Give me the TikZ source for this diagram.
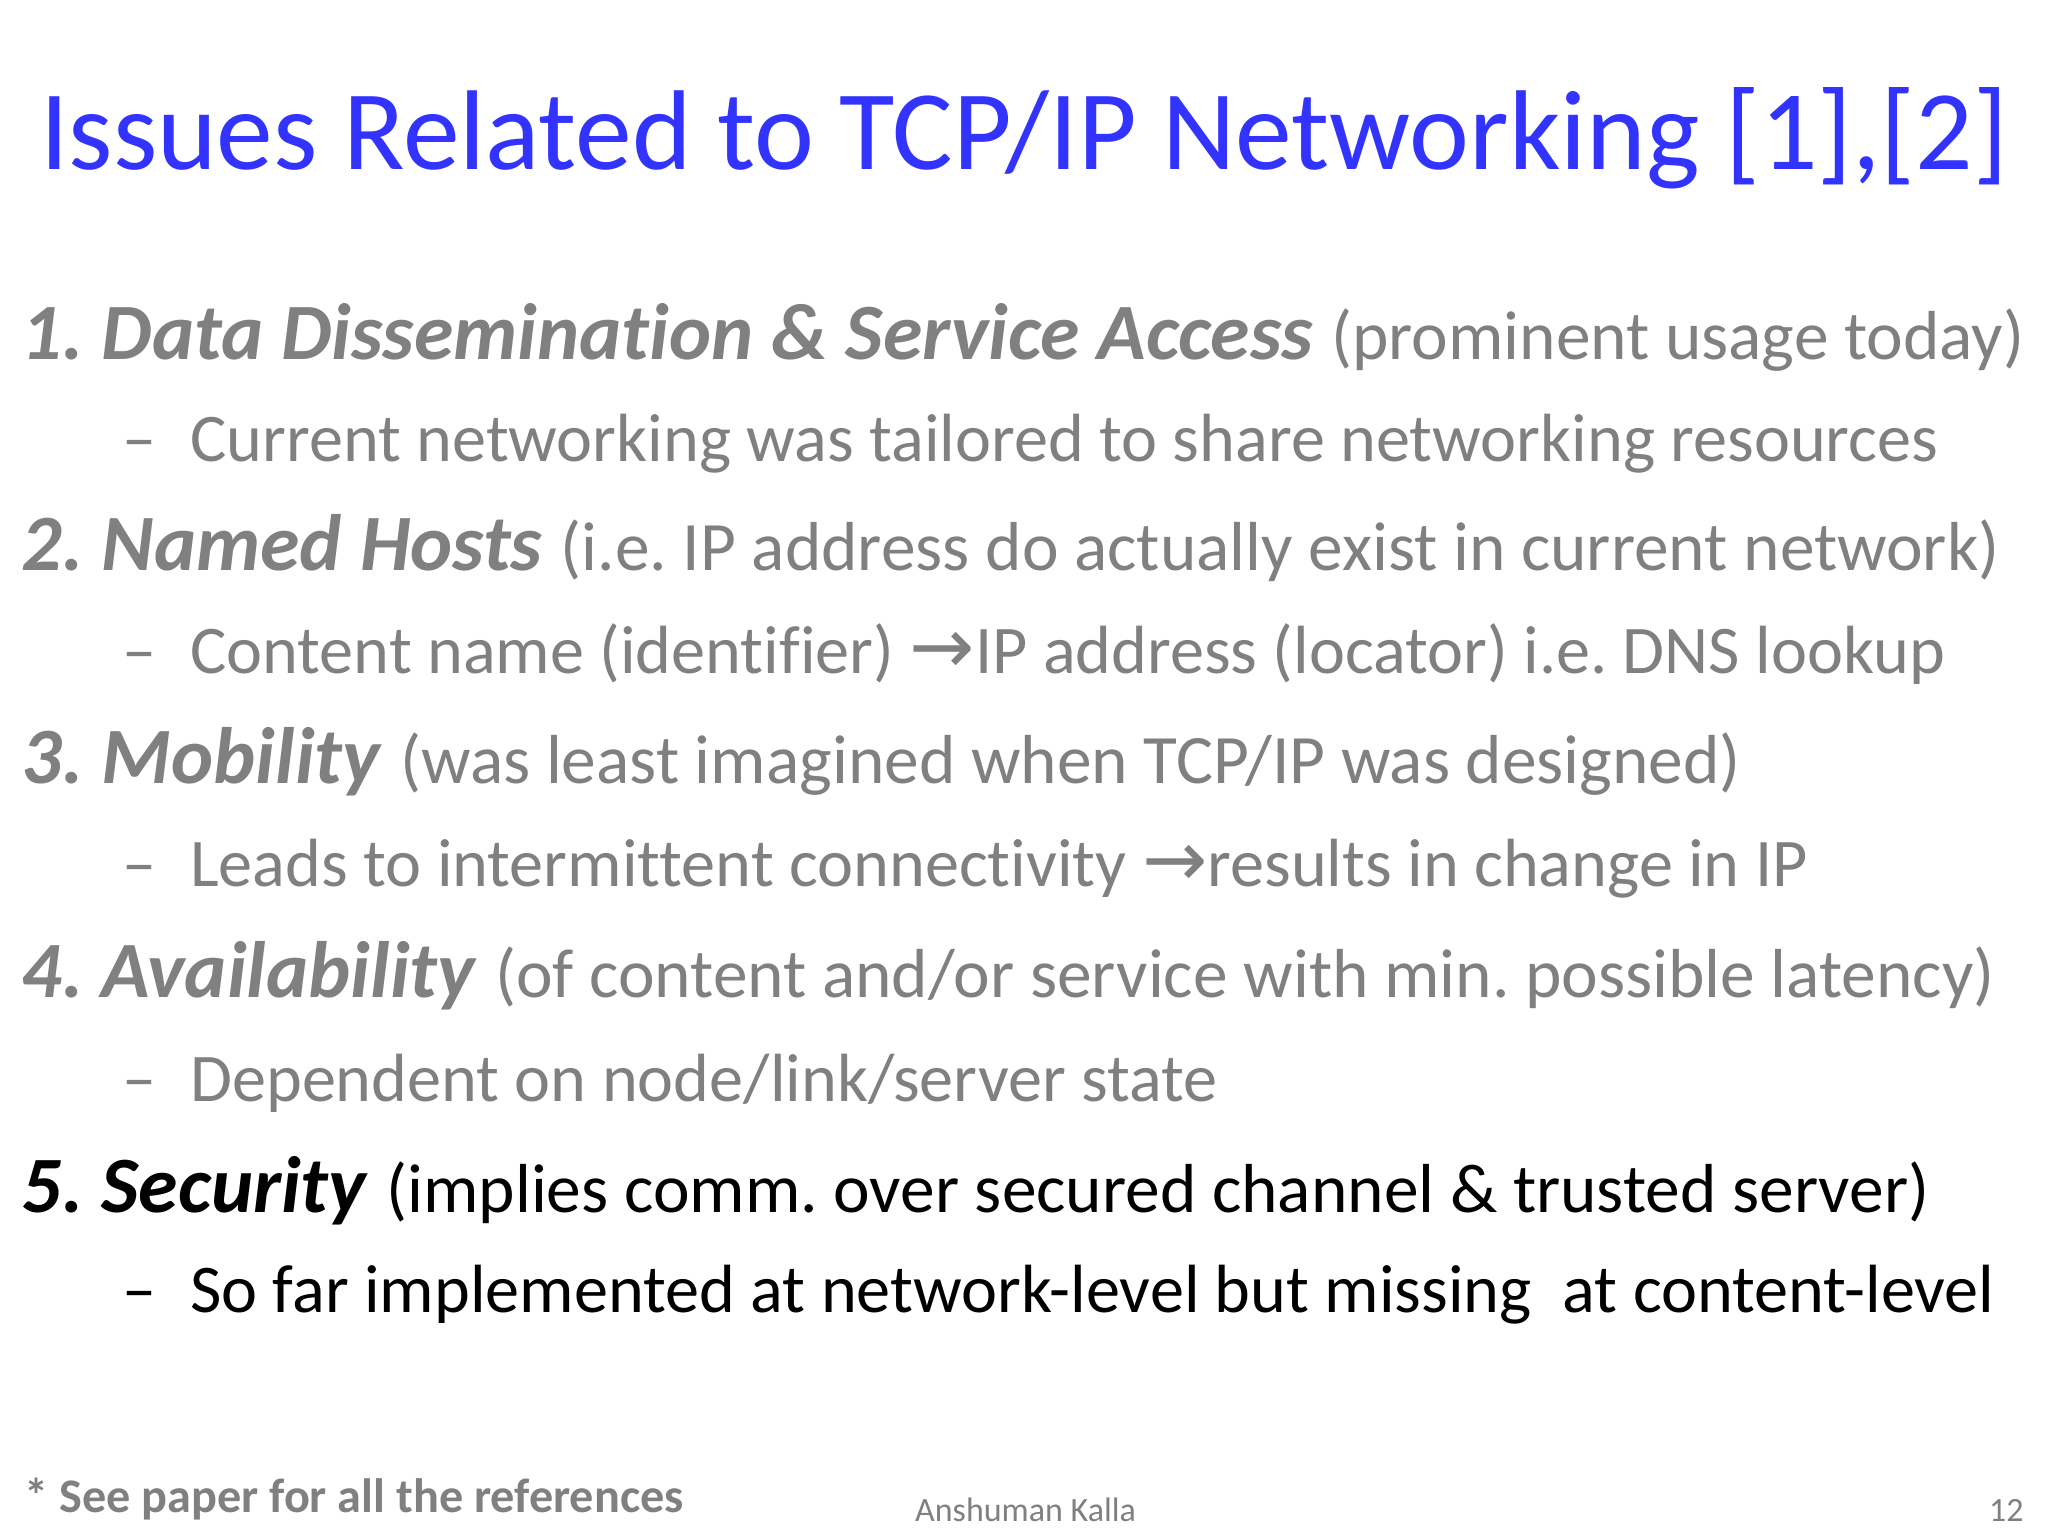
\documentclass[tikz,border=0pt]{standalone}
\usepackage{fontspec}
\setmainfont[Ligatures=NoCommon]{Carlito}
\newfontfamily\symf{DejaVu Sans}
\definecolor{ttl}{RGB}{51,51,255}
\definecolor{gr}{RGB}{128,128,128}
\frenchspacing
\tikzset{txt/.style={anchor=base west,inner sep=0pt},
 item/.style={txt,font=\fontsize{17.4}{21}\selectfont},
 sub/.style={txt,font=\fontsize{14.85}{18}\selectfont}}
\newcommand{\arr}{{\symf\fontsize{17}{16}\selectfont→}}
\newcommand{\rg}[1]{{\fontsize{15.1}{18}\selectfont #1}}
\begin{document}
\begin{tikzpicture}[x=0.01cm,y=-0.01cm]
\useasboundingbox[fill=white] (0,0) rectangle (1568,1176);
\node[txt,text=ttl,font=\fontsize{24.7}{30}\selectfont] (t) at (30,130) {Issues Related to TCP/IP Networking [1],[2]};
\node[item,text=gr] (i1) at (16,275) {\textbf{\textit{1. Data Dissemination \& Service Access}} \rg{(prominent usage today)}};
\node[sub,text=gr] (d1) at (93,353) {–};
\node[sub,text=gr] (s1) at (145,353) {Current networking was tailored to share networking resources};
\node[item,text=gr] (i2) at (16,437) {\textbf{\textit{2. Named Hosts}} \rg{(i.e. IP address do actually exist in current network)}};
\node[sub,text=gr] (d2) at (93,516) {–};
\node[sub,text=gr] (s2) at (145,516) {Content name (identifier) \arr IP address (locator) i.e. DNS lookup};
\node[item,text=gr] (i3) at (16,600) {\textbf{\textit{3. Mobility}} \rg{(was least imagined when TCP/IP was designed)}};
\node[sub,text=gr] (d3) at (93,679) {–};
\node[sub,text=gr] (s3) at (145,679) {Leads to intermittent connectivity \arr results in change in IP};
\node[item,text=gr] (i4) at (16,764) {\textbf{\textit{4. Availability}} \rg{(of content and/or service with min. possible latency)}};
\node[sub,text=gr] (d4) at (93,843) {–};
\node[sub,text=gr] (s4) at (145,843) {Dependent on node/link/server state};
\node[item,text=black] (i5) at (16,928) {\textbf{\textit{5. Security}} \rg{(implies comm. over secured channel \& trusted server)}};
\node[sub,text=black] (d5) at (93,1005) {–};
\node[sub,text=black] (s5) at (145,1005) {So far implemented at network-level but missing\ \ at content-level};
\node[txt,text=gr,font=\fontsize{10.5}{13}\selectfont\bfseries] (f) at (18,1158) {* See paper for all the references};
\node[txt,text=gr,font=\fontsize{7.4}{10}\selectfont] (a) at (700,1165) {Anshuman Kalla};
\node[txt,text=gr,font=\fontsize{7.4}{10}\selectfont,anchor=base east] (n) at (1550,1165) {12};
\end{tikzpicture}
\end{document}
